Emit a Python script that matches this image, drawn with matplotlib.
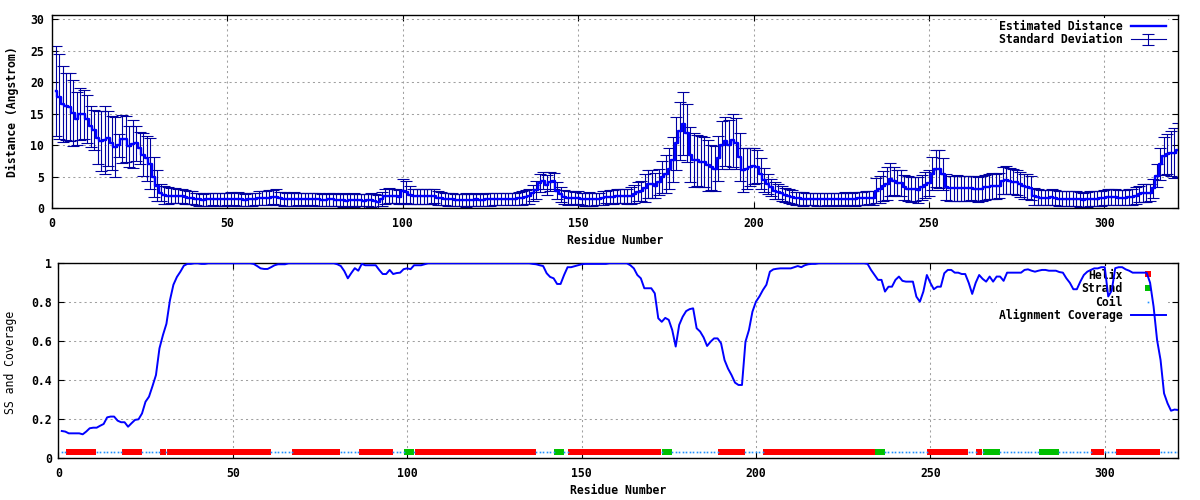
import numpy as np
import matplotlib
matplotlib.use("Agg")
import matplotlib.pyplot as plt

plt.rcParams["font.family"] = ["DejaVu Sans Mono"]
plt.rcParams["font.weight"] = "bold"
plt.rcParams["font.size"] = 8.3

# Estimated distance per residue (Angstrom), residues 1..321
dist = [
    18.6, 17.7, 16.5, 16.2, 16.1, 15.1, 14.2, 15.0, 14.9, 14.1,
    13.0, 12.4, 11.2, 10.7, 10.9, 11.1, 10.3, 9.7, 10.0, 11.0,
    11.0, 9.8, 10.2, 10.3, 9.6, 8.5, 7.9, 7.1, 5.0, 3.6,
    2.5, 2.1, 2.0, 2.0, 2.0, 2.0, 1.9, 1.8, 1.7, 1.7,
    1.5, 1.4, 1.3, 1.4, 1.4, 1.5, 1.4, 1.4, 1.4, 1.5,
    1.5, 1.5, 1.5, 1.4, 1.3, 1.4, 1.4, 1.5, 1.6, 1.6,
    1.6, 1.7, 1.8, 1.8, 1.6, 1.5, 1.4, 1.4, 1.5, 1.5,
    1.4, 1.4, 1.5, 1.5, 1.4, 1.4, 1.3, 1.3, 1.4, 1.4,
    1.3, 1.3, 1.3, 1.2, 1.3, 1.3, 1.3, 1.3, 1.2, 1.3,
    1.3, 1.2, 1.0, 1.5, 1.9, 2.0, 2.0, 1.9, 1.8, 2.7,
    2.6, 2.1, 1.9, 1.9, 1.9, 1.9, 1.9, 1.9, 2.0, 1.7,
    1.6, 1.5, 1.4, 1.4, 1.3, 1.3, 1.3, 1.3, 1.3, 1.3,
    1.4, 1.3, 1.3, 1.4, 1.4, 1.5, 1.5, 1.5, 1.5, 1.5,
    1.5, 1.5, 1.6, 1.7, 1.8, 1.9, 2.4, 2.9, 4.0, 4.4,
    3.7, 4.2, 4.3, 2.8, 2.2, 1.8, 1.7, 1.7, 1.6, 1.7,
    1.5, 1.4, 1.5, 1.4, 1.5, 1.5, 1.7, 1.8, 1.8, 1.8,
    1.9, 1.9, 1.9, 1.9, 2.0, 2.3, 2.6, 2.7, 3.2, 3.8,
    3.8, 3.6, 4.2, 5.0, 5.5, 6.3, 7.7, 10.3, 12.2, 13.4,
    12.0, 8.5, 7.7, 7.6, 7.4, 7.3, 6.8, 6.5, 6.3, 7.9,
    10.0, 10.6, 10.1, 10.8, 10.3, 8.2, 6.1, 6.3, 6.6, 6.7,
    6.6, 5.5, 4.5, 3.9, 3.3, 2.8, 2.6, 2.4, 2.1, 1.9,
    1.8, 1.6, 1.6, 1.5, 1.5, 1.5, 1.5, 1.4, 1.4, 1.4,
    1.5, 1.4, 1.4, 1.5, 1.5, 1.5, 1.5, 1.5, 1.5, 1.6,
    1.6, 1.6, 1.7, 1.7, 2.8, 3.0, 3.5, 3.9, 4.6, 4.3,
    4.0, 4.0, 3.3, 3.1, 3.0, 3.0, 2.9, 3.3, 3.7, 4.0,
    5.5, 6.3, 6.2, 5.4, 3.4, 3.2, 3.2, 3.2, 3.2, 3.2,
    3.2, 3.2, 3.1, 3.0, 3.1, 3.3, 3.4, 3.5, 3.5, 3.6,
    4.4, 4.5, 4.3, 4.2, 4.1, 3.8, 3.5, 3.4, 3.2, 1.9,
    1.8, 1.7, 1.7, 1.7, 1.8, 1.7, 1.5, 1.5, 1.5, 1.5,
    1.5, 1.5, 1.4, 1.3, 1.4, 1.5, 1.5, 1.5, 1.6, 1.7,
    1.8, 1.8, 1.8, 1.7, 1.7, 1.7, 1.8, 1.8, 2.0, 2.3,
    2.4, 2.4, 2.5, 3.2, 5.2, 7.0, 8.3, 8.6, 8.7, 8.8,
    9.2,
]

# Standard deviation of the distance
std = [
    7.1, 6.7, 6.0, 5.3, 5.4, 5.3, 4.2, 4.1, 3.9, 3.8,
    3.3, 3.2, 4.2, 4.8, 5.4, 4.4, 4.3, 4.8, 1.8, 3.8,
    3.7, 3.2, 3.8, 2.8, 2.5, 3.4, 3.5, 4.1, 3.2, 2.5,
    1.4, 1.4, 1.3, 1.2, 1.2, 1.1, 1.1, 1.1, 1.0, 1.0,
    1.0, 1.1, 1.0, 1.0, 1.1, 1.0, 1.0, 1.1, 1.0, 1.0,
    1.1, 1.0, 1.1, 1.0, 1.0, 1.0, 1.1, 1.0, 1.1, 1.1,
    1.1, 1.2, 1.1, 1.2, 1.0, 1.1, 1.0, 1.0, 1.1, 1.0,
    1.0, 1.1, 1.0, 1.0, 1.1, 1.0, 1.0, 1.0, 1.1, 1.0,
    1.0, 1.0, 1.1, 1.0, 1.0, 1.1, 1.0, 1.0, 1.1, 1.0,
    1.1, 1.1, 1.1, 1.1, 1.2, 1.2, 1.1, 1.1, 1.1, 2.0,
    1.8, 1.4, 1.2, 1.2, 1.2, 1.2, 1.2, 1.2, 1.1, 1.1,
    1.0, 1.0, 1.1, 1.0, 1.0, 1.0, 1.0, 1.1, 1.0, 1.0,
    1.0, 1.0, 1.0, 1.0, 1.1, 1.0, 1.0, 1.0, 1.0, 1.0,
    1.0, 1.0, 1.0, 1.1, 1.1, 1.2, 1.3, 1.4, 1.4, 1.4,
    1.6, 1.5, 1.3, 1.3, 1.2, 1.1, 1.1, 1.0, 1.0, 1.0,
    1.0, 1.0, 1.1, 1.0, 1.0, 1.0, 1.1, 1.0, 1.1, 1.1,
    1.1, 1.1, 1.1, 1.2, 1.3, 1.4, 1.5, 1.6, 2.2, 2.2,
    2.2, 2.0, 2.1, 2.5, 3.0, 3.3, 3.6, 4.2, 4.6, 5.0,
    4.6, 4.4, 4.3, 4.1, 4.0, 4.0, 4.0, 3.6, 3.6, 3.6,
    3.8, 3.9, 3.9, 4.2, 4.0, 3.8, 3.5, 3.2, 3.0, 2.8,
    2.6, 2.4, 1.9, 1.6, 1.4, 1.4, 1.2, 1.2, 1.1, 1.1,
    1.1, 1.0, 1.0, 1.1, 1.0, 1.0, 1.0, 1.1, 1.0, 1.0,
    1.0, 1.1, 1.0, 1.0, 1.0, 1.1, 1.0, 1.0, 1.1, 1.0,
    1.0, 1.1, 1.0, 1.1, 2.0, 2.2, 2.4, 2.6, 2.6, 2.2,
    2.0, 2.0, 2.0, 2.0, 2.0, 1.9, 2.0, 2.0, 2.0, 2.0,
    2.6, 3.0, 3.0, 2.5, 2.1, 2.0, 2.0, 2.1, 2.0, 2.0,
    2.0, 1.9, 2.0, 2.0, 2.0, 2.0, 2.0, 2.1, 2.0, 2.0,
    2.1, 2.2, 2.1, 2.0, 2.0, 2.0, 2.0, 2.0, 1.9, 1.3,
    1.2, 1.2, 1.2, 1.2, 1.2, 1.2, 1.2, 1.2, 1.2, 1.2,
    1.2, 1.2, 1.2, 1.2, 1.2, 1.2, 1.2, 1.2, 1.2, 1.2,
    1.2, 1.2, 1.2, 1.2, 1.2, 1.2, 1.2, 1.3, 1.3, 1.3,
    1.4, 1.4, 1.4, 1.5, 1.8, 2.5, 3.0, 3.2, 3.5, 4.0,
    4.3,
]

# Alignment coverage per residue
coverage = [
    0.14, 0.137, 0.128, 0.128, 0.128, 0.128, 0.123, 0.137, 0.154, 0.157,
    0.157, 0.167, 0.176, 0.21, 0.214, 0.214, 0.193, 0.185, 0.185, 0.162,
    0.18, 0.197, 0.2, 0.23, 0.29, 0.316, 0.37, 0.427, 0.564, 0.632,
    0.69, 0.81, 0.89, 0.93, 0.957, 0.988, 0.997, 0.997, 1.0, 1.0,
    0.997, 0.997, 1.0, 1.0, 1.0, 1.0, 1.0, 1.0, 1.0, 1.0,
    1.0, 1.0, 1.0, 1.0, 1.0, 0.997, 0.986, 0.974, 0.971, 0.971,
    0.98, 0.99, 0.995, 0.995, 0.995, 1.0, 1.0, 1.0, 1.0, 1.0,
    1.0, 1.0, 1.0, 1.0, 1.0, 1.0, 1.0, 1.0, 1.0, 0.995,
    0.986, 0.96, 0.923, 0.95, 0.975, 0.962, 0.997, 0.99, 0.99, 0.99,
    0.99, 0.966, 0.945, 0.945, 0.966, 0.945, 0.95, 0.952, 0.97, 0.974,
    0.97, 0.99, 0.99, 0.99, 0.995, 1.0, 1.0, 1.0, 1.0, 1.0,
    1.0, 1.0, 1.0, 1.0, 1.0, 1.0, 1.0, 1.0, 1.0, 1.0,
    1.0, 1.0, 1.0, 1.0, 1.0, 1.0, 1.0, 1.0, 1.0, 1.0,
    1.0, 1.0, 1.0, 1.0, 1.0, 0.997, 0.995, 0.99, 0.986, 0.949,
    0.93, 0.923, 0.894, 0.894, 0.94, 0.98, 0.98, 0.985, 0.99, 0.995,
    0.997, 0.997, 0.997, 0.997, 0.997, 0.997, 0.997, 1.0, 1.0, 1.0,
    1.0, 1.0, 1.0, 0.99, 0.974, 0.94, 0.923, 0.872, 0.872, 0.872,
    0.846, 0.718, 0.70, 0.72, 0.71, 0.658, 0.573, 0.684, 0.726, 0.755,
    0.765, 0.769, 0.667, 0.65, 0.62, 0.576, 0.598, 0.615, 0.615, 0.59,
    0.504, 0.46, 0.427, 0.388, 0.376, 0.376, 0.598, 0.658, 0.752, 0.803,
    0.83, 0.863, 0.89, 0.957, 0.969, 0.972, 0.974, 0.974, 0.974, 0.974,
    0.98, 0.986, 0.98, 0.99, 0.995, 0.997, 0.997, 1.0, 1.0, 1.0,
    1.0, 1.0, 1.0, 1.0, 1.0, 1.0, 1.0, 1.0, 1.0, 1.0,
    1.0, 0.997, 0.966, 0.94, 0.915, 0.915, 0.855, 0.88, 0.88, 0.915,
    0.932, 0.91, 0.906, 0.906, 0.906, 0.829, 0.803, 0.855, 0.94, 0.9,
    0.867, 0.88, 0.88, 0.949, 0.966, 0.966, 0.952, 0.952, 0.945, 0.945,
    0.9, 0.843, 0.9, 0.94, 0.92, 0.906, 0.932, 0.906, 0.932, 0.932,
    0.91, 0.952, 0.952, 0.952, 0.952, 0.952, 0.966, 0.969, 0.962, 0.957,
    0.962, 0.966, 0.966, 0.962, 0.962, 0.962, 0.955, 0.952, 0.923, 0.9,
    0.867, 0.867, 0.906, 0.94, 0.957, 0.966, 0.974, 0.974, 0.98, 0.98,
    0.83, 0.86, 0.975, 0.98, 0.98, 0.969, 0.962, 0.952, 0.952, 0.952,
    0.952, 0.952, 0.9, 0.778, 0.607, 0.504, 0.333, 0.282, 0.244, 0.25,
    0.248,
]

# Secondary structure segments (first, last residue)
helix_segments = [(3, 10), (19, 23), (30, 30), (32, 60), (68, 80), (87, 95),
                  (103, 136), (147, 172), (190, 196), (203, 234), (250, 260),
                  (264, 264), (297, 299), (304, 315)]
strand_segments = [(100, 101), (143, 144), (174, 175), (235, 236),
                   (266, 269), (282, 286)]
ss_level = 0.03

residues = np.arange(1, len(dist) + 1)

helix_res = [r for a, b in helix_segments for r in range(a, b + 1)]
strand_res = [r for a, b in strand_segments for r in range(a, b + 1)]
coil_res = [r for r in residues if r not in helix_res and r not in strand_res]

fig = plt.figure(figsize=(12, 5), dpi=100)
ax1 = fig.add_axes([52 / 1200, 1 - 208.3 / 500, 1126 / 1200, 193.6 / 500])
ax2 = fig.add_axes([58.3 / 1200, 1 - 458.3 / 500, 1119.7 / 1200, 195 / 500])

grid_kw = dict(color="#a0a0a0", linewidth=0.75, linestyle=(0, (2, 3)))
legend_kw = dict(loc="upper right", markerfirst=False, frameon=True, fancybox=False,
                 edgecolor="none", facecolor="white", framealpha=1, borderaxespad=0,
                 borderpad=0.2, labelspacing=0.05, handlelength=3.0, handletextpad=0.7)

#Top panel: distance with error bars
ax1.plot(residues, dist, color="#0000ff", linewidth=1.7, drawstyle="steps-mid",
         label="Estimated Distance", zorder=3)
ax1.errorbar(residues, dist, yerr=std, color="#0000a0", linewidth=0.8,
             elinewidth=0.8, capsize=4, capthick=0.8, drawstyle="steps-mid",
             label="Standard Deviation", zorder=2)
ax1.set_xlim(0, 321)
ax1.set_ylim(0, 30.7)
ax1.set_xticks(range(0, 301, 50))
ax1.set_yticks(range(0, 31, 5))
ax1.grid(True, **grid_kw)
ax1.tick_params(direction="in", top=True, right=True, length=4)
ax1.tick_params(axis="y", pad=6)
ax1.tick_params(axis="x", pad=6)
leg1 = ax1.legend(bbox_to_anchor=(0.991, 0.985), **legend_kw)
leg1.set_zorder(1.8)

#Bottom panel: secondary structure and coverage
ax2.plot(helix_res, [ss_level] * len(helix_res), linestyle="none", marker="s",
         markersize=4.2, color="#ff0000", markeredgewidth=0, label="Helix")
ax2.plot(strand_res, [ss_level] * len(strand_res), linestyle="none", marker="s",
         markersize=5.0, color="#00c000", markeredgewidth=0, label="Strand")
ax2.plot(coil_res, [ss_level] * len(coil_res), linestyle="none", marker="s",
         markersize=1.2, color="#1e90ff", markeredgewidth=0, label="Coil")
ax2.plot(residues, coverage, color="#0000ff", linewidth=1.4,
         label="Alignment Coverage", zorder=3)
ax2.set_xlim(0, 321)
ax2.set_ylim(0, 1)
ax2.set_xticks(range(0, 301, 50))
ax2.set_yticks([0, 0.2, 0.4, 0.6, 0.8, 1.0])
ax2.set_yticklabels(["0", "0.2", "0.4", "0.6", "0.8", "1"])
ax2.grid(True, **grid_kw)
ax2.tick_params(direction="in", top=True, right=True, length=4)
ax2.tick_params(axis="y", pad=4.5)
ax2.tick_params(axis="x", pad=6)
leg2 = ax2.legend(bbox_to_anchor=(0.991, 0.985), **legend_kw)
leg2.set_zorder(1.8)

for ax in (ax1, ax2):
    for sp in ax.spines.values():
        sp.set_linewidth(1.0)

fig.text(12 / 1200, 1 - 112 / 500, "Distance (Angstrom)", rotation=90,
         ha="center", va="center")
fig.text(615 / 1200, 1 - 240 / 500, "Residue Number", ha="center", va="center")
fig.text(11 / 1200, 1 - 362 / 500, "SS and Coverage", rotation=90,
         ha="center", va="center", fontweight="normal")
fig.text(618 / 1200, 1 - 490 / 500, "Residue Number", ha="center", va="center")

fig.savefig("out.png", dpi=100)
